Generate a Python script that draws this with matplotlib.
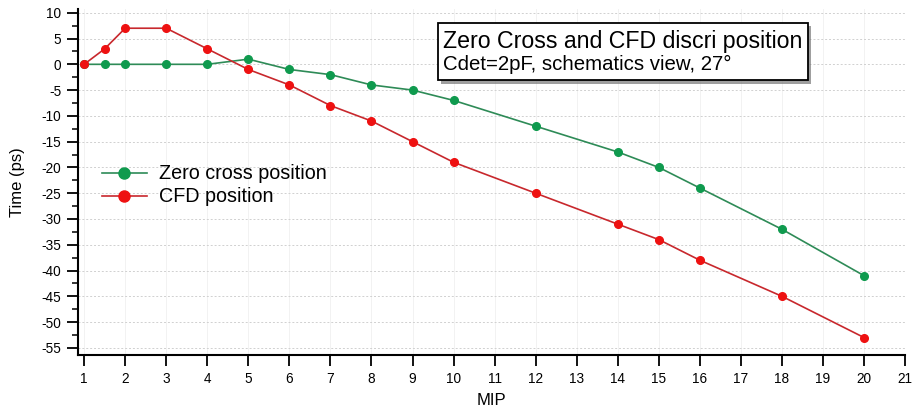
import matplotlib
matplotlib.use('Agg')
import matplotlib.pyplot as plt
from matplotlib.ticker import MultipleLocator
from matplotlib.patches import Rectangle
import matplotlib.patheffects as pe

plt.rcParams['font.family'] = ['Liberation Sans', 'DejaVu Sans']
plt.rcParams['axes.unicode_minus'] = False

mip = [1, 1.5, 2, 3, 4, 5, 6, 7, 8, 9, 10, 12, 14, 15, 16, 18, 20]
zero_cross = [0, 0, 0, 0, 0, 1, -1, -2, -4, -5, -7, -12, -17, -20, -24, -32, -41]
cfd = [0, 3, 7, 7, 3, -1, -4, -8, -11, -15, -19, -25, -31, -34, -38, -45, -53]

fig = plt.figure(figsize=(9.13, 4.11), dpi=100)
ax = fig.add_axes([0.0854, 0.136, 0.906, 0.843])

ax.plot(mip, zero_cross, color='#2e8b57', lw=1.2, marker='o', ms=5.5,
        mfc='#0f9a4e', mec='#0f9a4e', label='Zero cross position')
ax.plot(mip, cfd, color='#c8282d', lw=1.2, marker='o', ms=5.5,
        mfc='#ee1111', mec='#ee1111', label='CFD position')

ax.set_xlim(0.85, 21)
ax.set_ylim(-56.4, 10.8)
ax.xaxis.set_major_locator(MultipleLocator(1))
ax.yaxis.set_major_locator(MultipleLocator(5))
ax.yaxis.set_minor_locator(MultipleLocator(2.5))
ax.tick_params(direction='out', length=8, width=1.3, labelsize=9.8, colors='black', pad=4)
ax.tick_params(which='minor', direction='out', length=4, width=1.1)
ax.grid(True, axis='y', color='#d0d0d0', ls=(0, (2, 2)), lw=0.7)
ax.grid(True, axis='x', color='#f2f2f2', ls='-', lw=0.7)
ax.set_axisbelow(True)
for s in ['top', 'right']:
    ax.spines[s].set_visible(False)
for s in ['left', 'bottom']:
    ax.spines[s].set_linewidth(1.5)

ax.set_xlabel('MIP', fontsize=12)
ax.set_ylabel('Time (ps)', fontsize=12)
ax.xaxis.set_label_coords(0.5, -0.11)
ax.yaxis.set_label_coords(-0.064, 0.5)

ax.legend(loc='upper left', bbox_to_anchor=(0.012, 0.59), frameon=False,
          fontsize=14.2, handlelength=2.3, handletextpad=0.6,
          borderpad=0.2, labelspacing=0.2, markerscale=1.45)

# title box with drop shadow
box = Rectangle((0.4797, 0.805), 0.405, 0.139, transform=fig.transFigure,
                fc='white', ec='black', lw=1.3, zorder=5,
                path_effects=[pe.SimplePatchShadow(offset=(2.5, -2.5), shadow_rgbFace='#777777', alpha=0.7),
                              pe.Normal()])
fig.patches.append(box)
fig.text(0.4852, 0.898, 'Zero Cross and CFD discri position', fontsize=16.7,
         va='center', ha='left', zorder=6)
fig.text(0.4852, 0.843, 'Cdet=2pF, schematics view, 27°', fontsize=14.7,
         va='center', ha='left', zorder=6)

fig.savefig('out.png', dpi=100)
